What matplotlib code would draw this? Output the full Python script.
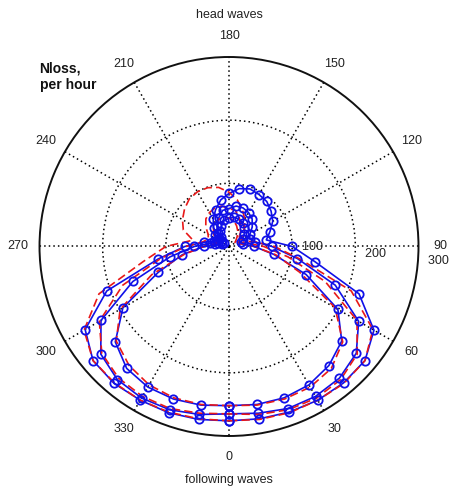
import numpy as np
import matplotlib.pyplot as plt

plt.rcParams['font.family'] = ['Liberation Sans', 'DejaVu Sans']

# wave heading, deg (0 = following waves, 180 = head waves)
heading = np.arange(0, 360, 10)

# Nloss per hour, computed (blue) for three conditions
nloss_hi = [276, 277, 279, 281, 282, 281, 265, 219, 138, 100, 60, 69,
            80, 87, 93, 95, 97, 93, 84, 75, 62, 50, 38, 28,
            22, 25, 40, 70, 114, 206, 263, 281, 283, 281, 280, 278]
nloss_mid = [265, 268, 273, 274, 272, 263, 237, 179, 110, 68, 42, 35,
             38, 48, 57, 62, 65, 65, 60, 58, 48, 38, 28, 20,
             15, 18, 30, 55, 95, 162, 234, 265, 275, 277, 275, 270]
nloss_lo = [252, 254, 255, 253, 246, 233, 199, 130, 72, 40, 22, 20,
            25, 32, 38, 43, 46, 47, 45, 42, 35, 28, 20, 14,
            10, 12, 22, 40, 75, 119, 194, 235, 252, 257, 257, 255]

# Nloss per hour, reflected headings (red dashed)
nloss_hi_r = [276, 278, 280, 281, 283, 281, 263, 206, 114, 72, 42, 25,
              22, 28, 38, 50, 62, 75, 86, 95, 99, 100, 98, 92,
              85, 77, 58, 100, 138, 219, 265, 281, 282, 281, 279, 277]
nloss_mid_r = [265, 270, 275, 277, 275, 265, 234, 162, 95, 55, 30, 18,
               15, 20, 28, 38, 48, 58, 60, 65, 65, 62, 57, 48,
               38, 35, 42, 68, 110, 179, 237, 263, 272, 274, 273, 268]
nloss_lo_r = [252, 255, 257, 257, 252, 235, 194, 119, 75, 40, 22, 12,
              10, 14, 20, 28, 35, 42, 45, 47, 46, 43, 38, 32,
              25, 20, 22, 40, 72, 130, 199, 233, 246, 253, 255, 254]

theta_ticks = np.arange(0, 360, 30)
r_ticks = [100, 200, 300]


def closed(a):
    return np.append(a, a[0])


fig = plt.figure(figsize=(4.5, 4.9), dpi=100)
ax = fig.add_axes([0.0878, 0.1102, 0.8422, 0.7735], projection='polar')
ax.set_theta_zero_location('S')
ax.set_theta_direction(1)
ax.set_rlim(0, 300)

th = np.deg2rad(closed(heading))
for blue, red in [(nloss_hi, nloss_hi_r), (nloss_mid, nloss_mid_r),
                  (nloss_lo, nloss_lo_r)]:
    ax.plot(th, closed(blue), '-', color='#1010e8', lw=1.2, zorder=3)
    ax.plot(th, closed(red), '--', color='#e81818', lw=1.2,
            dashes=(5, 2.5), zorder=4)
    ax.plot(th, closed(blue), 'o', ms=6, mfc='none', mec='#1010e8',
            mew=1.3, zorder=5)

# grid in the old dotted style
ax.set_thetagrids(theta_ticks, [''] * len(theta_ticks))
ax.set_rgrids(r_ticks[:-1], [''] * (len(r_ticks) - 1))
ax.grid(True, color='k', linestyle=(0, (1, 2)), linewidth=1.1)
ax.spines['polar'].set_linewidth(1.4)
ax.spines['polar'].set_color('#111111')

for t in theta_ticks:
    ax.text(np.deg2rad(t), 334, str(t), ha='center', va='center',
            fontsize=9, color='#222222')

# radius labels just below the 90 deg spoke
for r in r_ticks:
    ax.text(np.deg2rad(84), r + 5, '  %d' % r, ha='left', va='bottom',
            fontsize=9, color='#222222')

fig.text(0.509, 0.969, 'head waves', ha='center', va='center',
         fontsize=9, color='#222222')
fig.text(0.509, 0.020, 'following waves', ha='center', va='center',
         fontsize=9, color='#222222')
fig.text(0.088, 0.843, 'Nloss,\nper hour', ha='left', va='center',
         fontsize=10, fontweight='bold', color='#111111', linespacing=1.25)

fig.savefig('out.png')
